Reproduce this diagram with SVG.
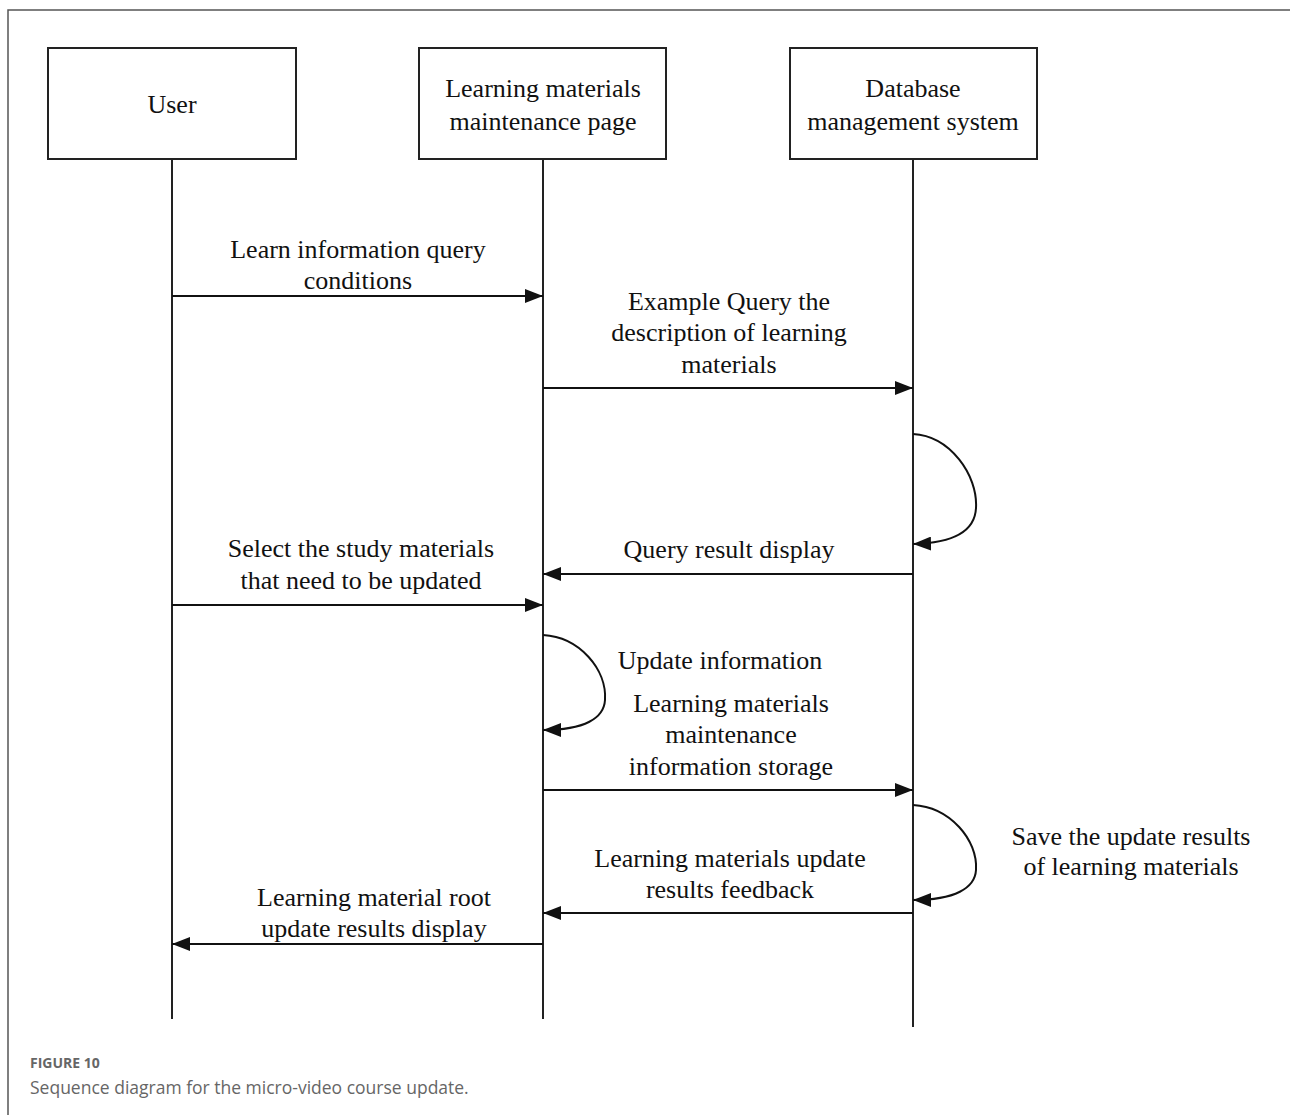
<svg xmlns="http://www.w3.org/2000/svg" width="1290" height="1115" viewBox="0 0 1290 1115">
<style>
.box{fill:#fff;stroke:#222;stroke-width:2}
.life{stroke:#222;stroke-width:2;fill:none}
.msg{stroke:#111;stroke-width:2;fill:none;marker-end:url(#ah)}
.t{font-family:"Liberation Serif","Times New Roman",serif;font-size:26px;fill:#111;text-anchor:middle}
.cap1{font-family:"Open Sans","Noto Sans",sans-serif;font-size:14px;font-weight:bold;fill:#666}
.cap2{font-family:"Open Sans","Noto Sans",sans-serif;font-size:17.5px;fill:#666}
</style>
<defs>
<marker id="ah" markerWidth="18" markerHeight="14" refX="18" refY="7" orient="auto" markerUnits="userSpaceOnUse">
<path d="M0,0 L18,7 L0,14 Z" fill="#111"/>
</marker>
</defs>
<rect width="1290" height="1115" fill="#fff"/>
<path d="M8,1115 L8,10 L1290,10" fill="none" stroke="#555" stroke-width="1.5"/>
<g id="user">
<rect class="box" x="48" y="48" width="248" height="111"/>
<text class="t" x="172" y="113">User</text>
</g>
<g id="page">
<rect class="box" x="419" y="48" width="247" height="111"/>
<text class="t" x="543" y="97">Learning materials</text>
<text class="t" x="543" y="130">maintenance page</text>
</g>
<g id="db">
<rect class="box" x="790" y="48" width="247" height="111"/>
<text class="t" x="913" y="97">Database</text>
<text class="t" x="913" y="130">management system</text>
</g>
<g id="lifelines">
<line class="life" x1="172" y1="159" x2="172" y2="1019"/>
<line class="life" x1="543" y1="159" x2="543" y2="1019"/>
<line class="life" x1="913" y1="159" x2="913" y2="1027"/>
</g>
<g id="connectors">
<line class="msg" x1="172" y1="296" x2="543" y2="296"/>
<line class="msg" x1="543" y1="388" x2="913" y2="388"/>
<path class="msg" d="M913,434 C950,436 978,475 976,508 C975,530 955,543 913,544"/>
<line class="msg" x1="913" y1="574" x2="543" y2="574"/>
<line class="msg" x1="172" y1="605" x2="543" y2="605"/>
<path class="msg" d="M543,635 C580,637 607,670 605,700 C604,718 585,730 543,730"/>
<line class="msg" x1="543" y1="790" x2="913" y2="790"/>
<path class="msg" d="M913,805 C950,807 978,840 976,870 C975,888 955,900 913,900"/>
<line class="msg" x1="913" y1="913" x2="543" y2="913"/>
<line class="msg" x1="543" y1="944" x2="172" y2="944"/>
</g>
<g id="labels">
<text class="t" x="358" y="258">Learn information query</text>
<text class="t" x="358" y="289">conditions</text>
<text class="t" x="729" y="310">Example Query the</text>
<text class="t" x="729" y="341">description of learning</text>
<text class="t" x="729" y="373">materials</text>
<text class="t" x="729" y="558">Query result display</text>
<text class="t" x="361" y="557">Select the study materials</text>
<text class="t" x="361" y="589">that need to be updated</text>
<text class="t" x="720" y="669">Update information</text>
<text class="t" x="731" y="712">Learning materials</text>
<text class="t" x="731" y="743">maintenance</text>
<text class="t" x="731" y="775">information storage</text>
<text class="t" x="1131" y="845">Save the update results</text>
<text class="t" x="1131" y="875">of learning materials</text>
<text class="t" x="730" y="867">Learning materials update</text>
<text class="t" x="730" y="898">results feedback</text>
<text class="t" x="374" y="906">Learning material root</text>
<text class="t" x="374" y="937">update results display</text>
</g>
<text class="cap1" x="30" y="1068">FIGURE 10</text>
<text class="cap2" x="30" y="1094">Sequence diagram for the micro-video course update.</text>
</svg>
